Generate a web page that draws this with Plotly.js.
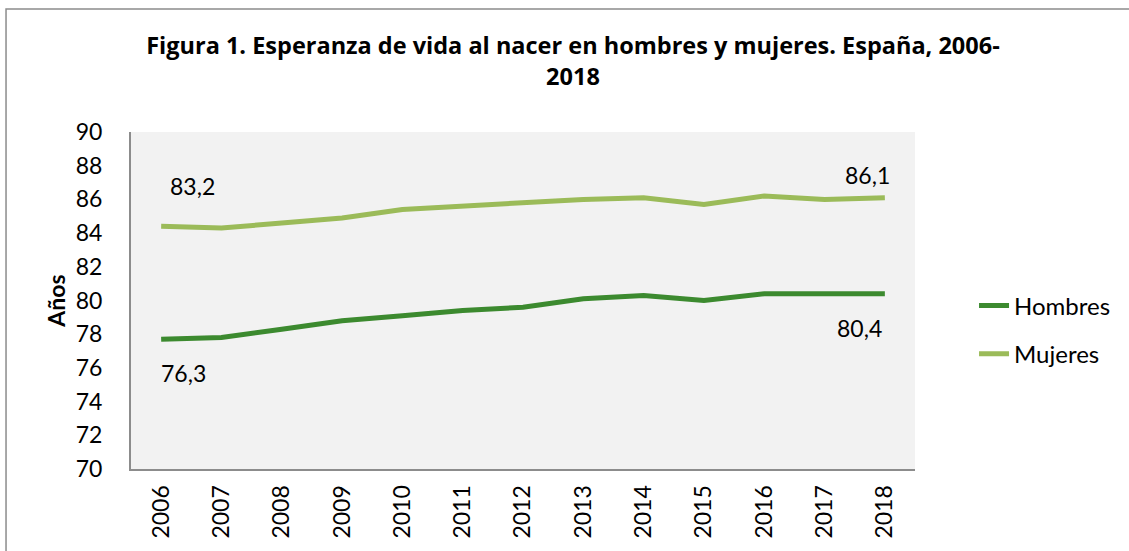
<!DOCTYPE html>
<html>
<head>
<meta charset="utf-8">
<script src="https://cdn.plot.ly/plotly-3.0.1.min.js"></script>
<style>html,body{margin:0;padding:0;background:#fff;}#chart{width:1129px;height:551px;}</style>
</head>
<body>
<div id="chart"></div>
<script>
const years = ['2006','2007','2008','2009','2010','2011','2012','2013','2014','2015','2016','2017','2018'];
const hombres = [77.7,77.8,78.3,78.8,79.1,79.4,79.6,80.1,80.3,80.0,80.4,80.4,80.4];
const mujeres = [84.4,84.3,84.6,84.9,85.4,85.6,85.8,86.0,86.1,85.7,86.2,86.0,86.1];
const hombresLabels = ['76,3','','','','','','','','','','','','80,4'];
const mujeresLabels = ['83,2','','','','','','','','','','','','86,1'];
const yTicks = [70,72,74,76,78,80,82,84,86,88,90];

const FONT = 'Lato, "Open Sans", sans-serif';
const TFONT = '"Open Sans", Lato, sans-serif';
const colH = '#3c8a2f';
const colM = '#9bbb59';

const traces = [
  {x: years, y: hombres, name: 'Hombres', type: 'scatter', mode: 'lines',
   line: {color: colH, width: 5}, legend: 'legend'},
  {x: years, y: mujeres, name: 'Mujeres', type: 'scatter', mode: 'lines',
   line: {color: colM, width: 5}, legend: 'legend2'}
];

const annotations = [];
const shiftH = {0: [22, -34], 12: [-25, -34]};
const shiftM = {0: [31, 40], 12: [-17, 23]};
hombresLabels.forEach((t, i) => {
  if (t) annotations.push({x: i, y: hombres[i], xref: 'x', yref: 'y', text: t, showarrow: false,
    xshift: shiftH[i][0], yshift: shiftH[i][1], font: {family: FONT, size: 23, color: '#000'}});
});
mujeresLabels.forEach((t, i) => {
  if (t) annotations.push({x: i, y: mujeres[i], xref: 'x', yref: 'y', text: t, showarrow: false,
    xshift: shiftM[i][0], yshift: shiftM[i][1], font: {family: FONT, size: 23, color: '#000'}});
});

const layout = {
  width: 1129, height: 551,
  margin: {l: 131, r: 214, t: 132, b: 82},
  paper_bgcolor: '#ffffff',
  plot_bgcolor: '#f2f2f2',
  font: {family: FONT, size: 23, color: '#000'},
  title: {
    text: '<b>Figura 1. Esperanza de vida al nacer en hombres y mujeres. España, 2006-<br>2018</b>',
    font: {family: TFONT, size: 23.5, color: '#000'},
    x: 0.5075, xref: 'container', xanchor: 'center',
    y: 0.902, yref: 'container', yanchor: 'top'
  },
  xaxis: {
    type: 'category', range: [-0.5, 12.5], tickangle: -90, showgrid: false, zeroline: false,
    showline: true, linecolor: '#8c8c8c', linewidth: 2, ticks: '',
    tickfont: {family: FONT, size: 23, color: '#000'}, automargin: false,
    ticklabelstandoff: 5
  },
  yaxis: {
    range: [70, 90], tickvals: yTicks, ticktext: yTicks.map(String),
    showgrid: false, zeroline: false, showline: true, linecolor: '#8c8c8c', linewidth: 2,
    ticks: '', tickfont: {family: FONT, size: 23, color: '#000'}, automargin: false,
    ticklabelstandoff: 22,
    title: {text: '<b>Años</b>', font: {family: FONT, size: 23, color: '#000'}, standoff: 4}
  },
  showlegend: true,
  legend: {x: 1.0753, xanchor: 'left', y: 0.484, yanchor: 'middle', bgcolor: 'rgba(0,0,0,0)',
    font: {family: FONT, size: 24, color: '#000'}},
  legend2: {x: 1.0753, xanchor: 'left', y: 0.341, yanchor: 'middle', bgcolor: 'rgba(0,0,0,0)',
    font: {family: FONT, size: 24, color: '#000'}},
  annotations: annotations,
  shapes: [{type: 'rect', xref: 'paper', yref: 'paper', x0: -0.1594, x1: 1.4, y0: -0.4, y1: 1.365,
    line: {color: '#8c8c8c', width: 1.5}, fillcolor: 'rgba(0,0,0,0)', layer: 'below'}]
};

Plotly.newPlot('chart', traces, layout, {displayModeBar: false, staticPlot: true});
</script>
</body>
</html>
